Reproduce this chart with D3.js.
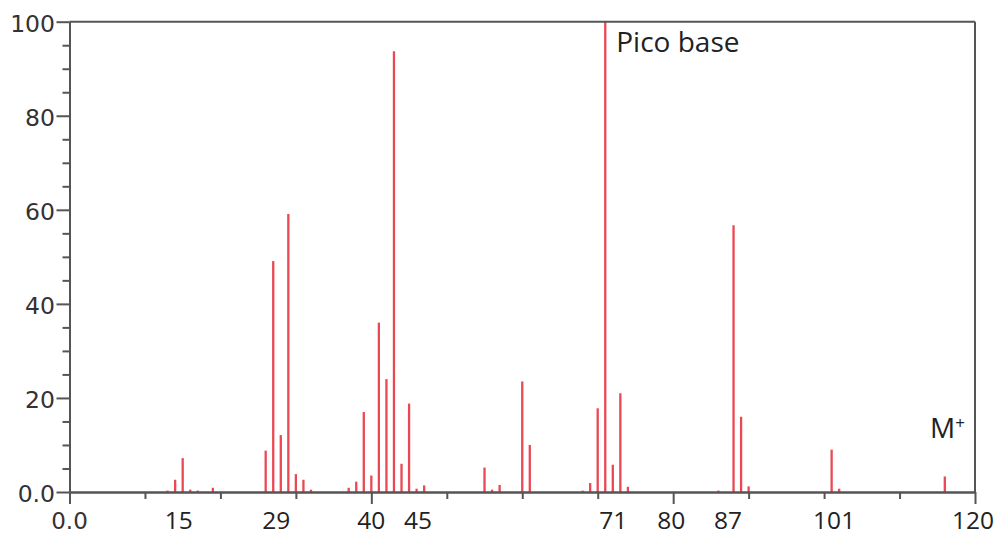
<!DOCTYPE html>
<html>
<head>
<meta charset="utf-8">
<script src="https://cdn.jsdelivr.net/npm/d3@7"></script>
<style>
  html, body { margin: 0; padding: 0; background: #fff; }
  svg { display: block; }
</style>
</head>
<body>
<svg id="chart" width="1002" height="536"></svg>
<script>
// Mass spectrum: m/z positions and relative intensities (%)
const mz = [13, 14, 15, 16, 17, 19,
            26, 27, 28, 29, 30, 31, 32,
            37, 38, 39, 40, 41, 42, 43, 44, 45, 46, 47,
            55, 56, 57,
            60, 61,
            68, 69, 70, 71, 72, 73, 74,
            86, 88, 89, 90,
            101, 102,
            116];
const intensity = [0.3, 2.6, 7.2, 0.5, 0.3, 0.9,
                   8.8, 49.1, 12.1, 59.1, 3.8, 2.6, 0.5,
                   0.9, 2.2, 17.0, 3.5, 36.0, 24.0, 93.7, 6.0, 18.8, 0.7, 1.4,
                   5.2, 0.5, 1.5,
                   23.5, 10.0,
                   0.3, 1.9, 17.8, 100, 5.8, 21.0, 1.1,
                   0.3, 56.7, 16.0, 1.2,
                   9.0, 0.7,
                   3.3];

// Axis labelling
const xLabelValues = [0, 15, 29, 40, 45, 71, 80, 87, 101, 120];
const xLabelTexts  = ["0.0", "15", "29", "40", "45", "71", "80", "87", "101", "120"];
const yMajorTicks  = [0, 20, 40, 60, 80, 100];
const yTickTexts   = ["0.0", "20", "40", "60", "80", "100"];

// Horizontal nudges (px) for the hand-placed x labels
const xLabelNudge = [0, -4, -12, 0, 9, 8, -2, 2, 2.5, -2];

const svg = d3.select("#chart");
const plotLeft = 69.5, plotRight = 975, plotTop = 21.7, plotBottom = 492;
const axisColor = "#555";
const peakColor = "#ea4852";

const x = d3.scaleLinear().domain([0, 120]).range([plotLeft, plotRight]);
const y = d3.scaleLinear().domain([0, 100]).range([plotBottom, plotTop]);

// Peaks
svg.append("g")
  .selectAll("line")
  .data(mz.map((m, i) => ({ m, v: intensity[i] })))
  .join("line")
  .attr("x1", d => x(d.m)).attr("x2", d => x(d.m))
  .attr("y1", y(0)).attr("y2", d => y(d.v))
  .attr("stroke", peakColor)
  .attr("stroke-width", 2.3);

function styleAxis(g) {
  g.selectAll("path.domain").attr("stroke", axisColor).attr("stroke-width", 2);
  g.selectAll(".tick line").attr("stroke", axisColor).attr("stroke-width", 2);
}

// Y axis: minor ticks every 5, major every 20
svg.append("g")
  .attr("transform", `translate(${plotLeft},0)`)
  .call(d3.axisLeft(y).tickValues(d3.range(0, 101, 5).filter(v => v % 20 !== 0))
        .tickSize(7).tickSizeOuter(0).tickFormat(""))
  .call(styleAxis);

svg.append("g")
  .attr("transform", `translate(${plotLeft},0)`)
  .call(d3.axisLeft(y).tickValues(yMajorTicks).tickSize(13).tickSizeOuter(0)
        .tickPadding(1.5).tickFormat((d, i) => yTickTexts[i]))
  .call(styleAxis)
  .call(g => g.selectAll("text")
    .attr("font-family", "'DejaVu Sans', Verdana, sans-serif")
    .attr("font-size", 23.5)
    .attr("fill", "#333")
    .attr("dy", "0.42em"));

// X axis: minor ticks every 10, major every 40
svg.append("g")
  .attr("transform", `translate(0,${plotBottom})`)
  .call(d3.axisBottom(x).tickValues(d3.range(0, 121, 10).filter(v => v % 40 !== 0))
        .tickSize(7).tickSizeOuter(0).tickFormat(""))
  .call(styleAxis);

svg.append("g")
  .attr("transform", `translate(0,${plotBottom})`)
  .call(d3.axisBottom(x).tickValues([0, 40, 80, 120])
        .tickSize(12).tickSizeOuter(0).tickFormat(""))
  .call(styleAxis);

// Frame: top and right edges
svg.append("line")
  .attr("x1", x(0)).attr("x2", x(120)).attr("y1", y(100)).attr("y2", y(100))
  .attr("stroke", axisColor).attr("stroke-width", 2);
svg.append("line")
  .attr("x1", x(120)).attr("x2", x(120)).attr("y1", y(100)).attr("y2", y(0))
  .attr("stroke", axisColor).attr("stroke-width", 2);

// X labels
svg.append("g")
  .selectAll("text")
  .data(xLabelValues)
  .join("text")
  .attr("x", (d, i) => x(d) + xLabelNudge[i])
  .attr("y", 529)
  .attr("text-anchor", "middle")
  .attr("font-family", (d, i) => i === 0 ? "'DejaVu Sans', Verdana, sans-serif" : "'Open Sans', sans-serif")
  .attr("font-size", (d, i) => i === 0 ? 23 : 24.5)
  .attr("fill", (d, i) => i === 0 ? "#333" : "#222")
  .text((d, i) => xLabelTexts[i]);

// Annotations
svg.append("text")
  .attr("x", x(71) + 11).attr("y", 52)
  .attr("font-family", "'Open Sans', sans-serif")
  .attr("font-size", 28)
  .attr("fill", "#222")
  .text("Pico base");

const mLabel = svg.append("text")
  .attr("x", 930).attr("y", 438)
  .attr("font-family", "'Open Sans', sans-serif")
  .attr("font-size", 28)
  .attr("fill", "#222");
mLabel.append("tspan").text("M");
mLabel.append("tspan").attr("font-size", 17).attr("dy", -9).text("+");
</script>
</body>
</html>
